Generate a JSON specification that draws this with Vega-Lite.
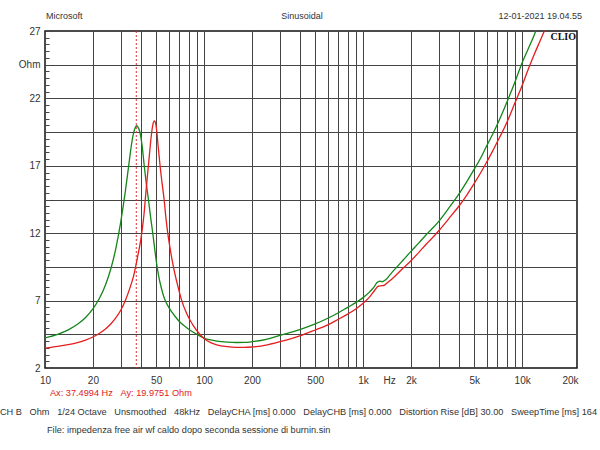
{
  "$schema": "https://vega.github.io/schema/vega-lite/v6.json",
  "width": 532,
  "height": 337,
  "autosize": "none",
  "padding": {"left": 45, "top": 31, "right": 23, "bottom": 82},
  "background": "white",
  "config": {
    "font": "Liberation Sans",
    "view": {"stroke": "#111", "strokeWidth": 1.5}
  },
  "layer": [
    {
      "data": {"values": [
        {"f":10,"z":4.24,"curve":"green"},{"f":12,"z":4.5,"curve":"green"},{"f":14,"z":4.83,"curve":"green"},{"f":16,"z":5.24,"curve":"green"},{"f":18,"z":5.75,"curve":"green"},{"f":20,"z":6.38,"curve":"green"},{"f":22,"z":7.17,"curve":"green"},{"f":24,"z":8.16,"curve":"green"},{"f":26,"z":9.4,"curve":"green"},{"f":28,"z":10.97,"curve":"green"},{"f":30,"z":12.9,"curve":"green"},{"f":32,"z":15.1,"curve":"green"},{"f":34,"z":17.5,"curve":"green"},{"f":35,"z":18.6,"curve":"green"},{"f":36,"z":19.4,"curve":"green"},{"f":37,"z":19.85,"curve":"green"},{"f":37.6,"z":19.97,"curve":"green"},{"f":38.5,"z":19.85,"curve":"green"},{"f":39.6,"z":19.45,"curve":"green"},{"f":40.8,"z":18.5,"curve":"green"},{"f":41.9,"z":17.2,"curve":"green"},{"f":43,"z":16.0,"curve":"green"},{"f":44.7,"z":14.5,"curve":"green"},{"f":46,"z":13.3,"curve":"green"},{"f":47.6,"z":12.0,"curve":"green"},{"f":49,"z":10.8,"curve":"green"},{"f":50.4,"z":9.7,"curve":"green"},{"f":52,"z":8.75,"curve":"green"},{"f":54,"z":7.9,"curve":"green"},{"f":56,"z":7.25,"curve":"green"},{"f":58,"z":6.82,"curve":"green"},{"f":60,"z":6.5,"curve":"green"},{"f":63,"z":6.12,"curve":"green"},{"f":66,"z":5.8,"curve":"green"},{"f":70,"z":5.45,"curve":"green"},{"f":75,"z":5.13,"curve":"green"},{"f":80,"z":4.88,"curve":"green"},{"f":90,"z":4.5,"curve":"green"},{"f":100,"z":4.22,"curve":"green"},{"f":110,"z":4.08,"curve":"green"},{"f":120,"z":4.0,"curve":"green"},{"f":140,"z":3.92,"curve":"green"},{"f":160,"z":3.89,"curve":"green"},{"f":180,"z":3.9,"curve":"green"},{"f":200,"z":3.95,"curve":"green"},{"f":250,"z":4.15,"curve":"green"},{"f":300,"z":4.42,"curve":"green"},{"f":400,"z":4.85,"curve":"green"},{"f":500,"z":5.27,"curve":"green"},{"f":600,"z":5.69,"curve":"green"},{"f":700,"z":6.1,"curve":"green"},{"f":800,"z":6.5,"curve":"green"},{"f":900,"z":6.85,"curve":"green"},{"f":1000,"z":7.22,"curve":"green"},{"f":1100,"z":7.65,"curve":"green"},{"f":1170,"z":8.0,"curve":"green"},{"f":1220,"z":8.32,"curve":"green"},{"f":1270,"z":8.45,"curve":"green"},{"f":1320,"z":8.4,"curve":"green"},{"f":1380,"z":8.52,"curve":"green"},{"f":1450,"z":8.8,"curve":"green"},{"f":1550,"z":9.2,"curve":"green"},{"f":1650,"z":9.55,"curve":"green"},{"f":1800,"z":10.05,"curve":"green"},{"f":2000,"z":10.65,"curve":"green"},{"f":2250,"z":11.3,"curve":"green"},{"f":2500,"z":11.9,"curve":"green"},{"f":2750,"z":12.4,"curve":"green"},{"f":3000,"z":12.9,"curve":"green"},{"f":3500,"z":13.95,"curve":"green"},{"f":4000,"z":14.9,"curve":"green"},{"f":4500,"z":15.85,"curve":"green"},{"f":5000,"z":16.75,"curve":"green"},{"f":5500,"z":17.6,"curve":"green"},{"f":6000,"z":18.5,"curve":"green"},{"f":6500,"z":19.3,"curve":"green"},{"f":7000,"z":20.1,"curve":"green"},{"f":7500,"z":20.9,"curve":"green"},{"f":8000,"z":21.7,"curve":"green"},{"f":9000,"z":23.2,"curve":"green"},{"f":10000,"z":24.65,"curve":"green"},{"f":11000,"z":25.75,"curve":"green"},{"f":12000,"z":26.8,"curve":"green"},{"f":13000,"z":27.9,"curve":"green"},
        {"f":10,"z":3.48,"curve":"red"},{"f":12,"z":3.6,"curve":"red"},{"f":14,"z":3.73,"curve":"red"},{"f":16,"z":3.88,"curve":"red"},{"f":18,"z":4.07,"curve":"red"},{"f":20,"z":4.3,"curve":"red"},{"f":22,"z":4.58,"curve":"red"},{"f":24,"z":4.9,"curve":"red"},{"f":26,"z":5.28,"curve":"red"},{"f":28,"z":5.75,"curve":"red"},{"f":30,"z":6.3,"curve":"red"},{"f":32,"z":7.0,"curve":"red"},{"f":34,"z":7.85,"curve":"red"},{"f":36,"z":8.8,"curve":"red"},{"f":38,"z":10.1,"curve":"red"},{"f":40,"z":11.5,"curve":"red"},{"f":41,"z":12.4,"curve":"red"},{"f":42,"z":13.5,"curve":"red"},{"f":43,"z":14.9,"curve":"red"},{"f":44,"z":16.2,"curve":"red"},{"f":45,"z":17.4,"curve":"red"},{"f":46,"z":18.6,"curve":"red"},{"f":47,"z":19.6,"curve":"red"},{"f":48,"z":20.2,"curve":"red"},{"f":48.7,"z":20.34,"curve":"red"},{"f":49.5,"z":20.2,"curve":"red"},{"f":50.4,"z":19.6,"curve":"red"},{"f":51.5,"z":18.4,"curve":"red"},{"f":52.9,"z":17.0,"curve":"red"},{"f":54.5,"z":15.7,"curve":"red"},{"f":56.1,"z":14.5,"curve":"red"},{"f":57.5,"z":13.2,"curve":"red"},{"f":59,"z":12.1,"curve":"red"},{"f":61.5,"z":10.7,"curve":"red"},{"f":64.2,"z":9.5,"curve":"red"},{"f":68,"z":8.2,"curve":"red"},{"f":72.4,"z":7.0,"curve":"red"},{"f":78,"z":6.0,"curve":"red"},{"f":85,"z":5.2,"curve":"red"},{"f":94,"z":4.5,"curve":"red"},{"f":100,"z":4.18,"curve":"red"},{"f":110,"z":3.88,"curve":"red"},{"f":120,"z":3.72,"curve":"red"},{"f":140,"z":3.58,"curve":"red"},{"f":160,"z":3.53,"curve":"red"},{"f":180,"z":3.53,"curve":"red"},{"f":200,"z":3.56,"curve":"red"},{"f":250,"z":3.72,"curve":"red"},{"f":300,"z":3.95,"curve":"red"},{"f":400,"z":4.38,"curve":"red"},{"f":500,"z":4.82,"curve":"red"},{"f":600,"z":5.2,"curve":"red"},{"f":700,"z":5.62,"curve":"red"},{"f":800,"z":6.0,"curve":"red"},{"f":900,"z":6.38,"curve":"red"},{"f":1000,"z":6.8,"curve":"red"},{"f":1100,"z":7.28,"curve":"red"},{"f":1180,"z":7.75,"curve":"red"},{"f":1240,"z":8.05,"curve":"red"},{"f":1290,"z":8.1,"curve":"red"},{"f":1350,"z":8.12,"curve":"red"},{"f":1420,"z":8.32,"curve":"red"},{"f":1500,"z":8.55,"curve":"red"},{"f":1630,"z":8.95,"curve":"red"},{"f":1800,"z":9.45,"curve":"red"},{"f":2000,"z":9.95,"curve":"red"},{"f":2250,"z":10.6,"curve":"red"},{"f":2500,"z":11.2,"curve":"red"},{"f":2750,"z":11.7,"curve":"red"},{"f":3000,"z":12.2,"curve":"red"},{"f":3500,"z":13.15,"curve":"red"},{"f":4000,"z":14.0,"curve":"red"},{"f":4500,"z":14.85,"curve":"red"},{"f":5000,"z":15.7,"curve":"red"},{"f":5500,"z":16.5,"curve":"red"},{"f":6000,"z":17.3,"curve":"red"},{"f":6500,"z":18.05,"curve":"red"},{"f":7000,"z":18.8,"curve":"red"},{"f":7500,"z":19.5,"curve":"red"},{"f":8000,"z":20.2,"curve":"red"},{"f":9000,"z":21.65,"curve":"red"},{"f":10000,"z":22.95,"curve":"red"},{"f":11000,"z":24.25,"curve":"red"},{"f":12000,"z":25.35,"curve":"red"},{"f":13000,"z":26.3,"curve":"red"},{"f":14000,"z":27.2,"curve":"red"},{"f":15000,"z":28.2,"curve":"red"}
      ]},
      "mark": {"type": "line", "clip": true, "strokeWidth": 1.3, "interpolate": "monotone"},
      "encoding": {
        "x": {
          "field": "f", "type": "quantitative",
          "scale": {"type": "log", "domain": [10, 22130], "nice": false},
          "axis": {
            "title": null,
            "tickCount": 100,
            "values": [10,20,30,40,50,60,70,80,90,100,200,300,400,500,600,700,800,900,1000,1460,2000,3000,4000,5000,6000,7000,8000,9000,10000,20000],
            "labelExpr": "datum.value==10?'10':datum.value==20?'20':datum.value==50?'50':datum.value==100?'100':datum.value==200?'200':datum.value==500?'500':datum.value==1000?'1k':datum.value==1460?'Hz':datum.value==2000?'2k':datum.value==5000?'5k':datum.value==10000?'10k':datum.value==20000?'20k':''",
            "grid": true,
            "gridColor": "#444",
            "gridWidth": 1,
            "gridOpacity": {"condition": {"test": "datum.value==10 || datum.value==1460 || datum.value==20000", "value": 0}, "value": 1},
            "ticks": false,
            "domain": false,
            "labelFontSize": 10,
            "labelColor": "#333",
            "labelPadding": 7,
            "labelFlush": false,
            "labelOverlap": false
          }
        },
        "y": {
          "field": "z", "type": "quantitative",
          "scale": {"domain": [2, 27], "nice": false, "zero": false},
          "axis": {
            "title": null,
            "tickCount": 100,
            "values": [2,2.5,3,3.5,4,4.5,5,5.5,6,6.5,7,7.5,8,8.5,9,9.5,10,10.5,11,11.5,12,12.5,13,13.5,14,14.5,15,15.5,16,16.5,17,17.5,18,18.5,19,19.5,20,20.5,21,21.5,22,22.5,23,23.5,24,24.5,25,25.5,26,26.5,27],
            "labelExpr": "datum.value==24.5?'Ohm':((datum.value-2)%5==0?''+datum.value:'')",
            "grid": true,
            "gridColor": "#444",
            "gridWidth": 1,
            "gridOpacity": {"condition": {"test": "(datum.value-2)%2.5!=0 || datum.value==2 || datum.value==27", "value": 0}, "value": 1},
            "ticks": true,
            "tickSize": -4,
            "tickColor": "#444",
            "domain": false,
            "labelFontSize": 10,
            "labelColor": "#333",
            "labelPadding": 9,
            "labelOverlap": false,
            "labelFlush": false
          }
        },
        "color": {"field": "curve", "type": "nominal", "scale": {"domain": ["green", "red"], "range": ["#14861a", "#e41e1e"]}, "legend": null}
      }
    },
    {
      "data": {"values": [{"cursor": 37.4994}]},
      "mark": {"type": "rule", "color": "#e03030", "strokeDash": [2, 2], "strokeWidth": 1},
      "encoding": {"x": {"field": "cursor", "type": "quantitative"}}
    },
    {
      "data": {"values": [{"t": "Microsoft"}]},
      "mark": {"type": "text", "align": "left", "baseline": "middle", "fontSize": 9, "color": "#333"},
      "encoding": {"x": {"datum": 10.15}, "y": {"datum": 28.11}, "text": {"field": "t"}}
    },
    {
      "data": {"values": [{"t": "Sinusoidal"}]},
      "mark": {"type": "text", "align": "center", "baseline": "middle", "fontSize": 9, "color": "#333"},
      "encoding": {"x": {"datum": 413}, "y": {"datum": 28.11}, "text": {"field": "t"}}
    },
    {
      "data": {"values": [{"t": "12-01-2021 19.04.55"}]},
      "mark": {"type": "text", "align": "right", "baseline": "middle", "fontSize": 9, "color": "#333"},
      "encoding": {"x": {"datum": 23800}, "y": {"datum": 28.11}, "text": {"field": "t"}}
    },
    {
      "data": {"values": [{"t": "CLIO"}]},
      "mark": {"type": "text", "align": "right", "baseline": "middle", "fontSize": 10, "fontWeight": "bold", "font": "Liberation Serif", "color": "#111"},
      "encoding": {"x": {"datum": 21820}, "y": {"datum": 26.56}, "text": {"field": "t"}}
    },
    {
      "data": {"values": [{"t": "Ax: 37.4994 Hz\u00a0\u00a0\u00a0Ay: 19.9751 Ohm"}]},
      "mark": {"type": "text", "align": "left", "baseline": "middle", "fontSize": 9.2, "color": "#e02020"},
      "encoding": {"x": {"datum": 10.75}, "y": {"datum": 0.145}, "text": {"field": "t"}}
    },
    {
      "data": {"values": [{"t": "CH B\u00a0\u00a0\u00a0Ohm\u00a0\u00a0\u00a01/24 Octave\u00a0\u00a0\u00a0Unsmoothed\u00a0\u00a0\u00a048kHz\u00a0\u00a0\u00a0DelayCHA [ms] 0.000\u00a0\u00a0\u00a0DelayCHB [ms] 0.000\u00a0\u00a0\u00a0Distortion Rise [dB] 30.00\u00a0\u00a0\u00a0SweepTime [ms] 164"}]},
      "mark": {"type": "text", "align": "left", "baseline": "middle", "fontSize": 9.2, "color": "#333"},
      "encoding": {"x": {"datum": 5.21}, "y": {"datum": -1.264}, "text": {"field": "t"}}
    },
    {
      "data": {"values": [{"t": "File: impedenza free air wf caldo dopo seconda sessione di burnin.sin"}]},
      "mark": {"type": "text", "align": "left", "baseline": "middle", "fontSize": 9.2, "color": "#333"},
      "encoding": {"x": {"datum": 10.29}, "y": {"datum": -2.6}, "text": {"field": "t"}}
    }
  ]
}
